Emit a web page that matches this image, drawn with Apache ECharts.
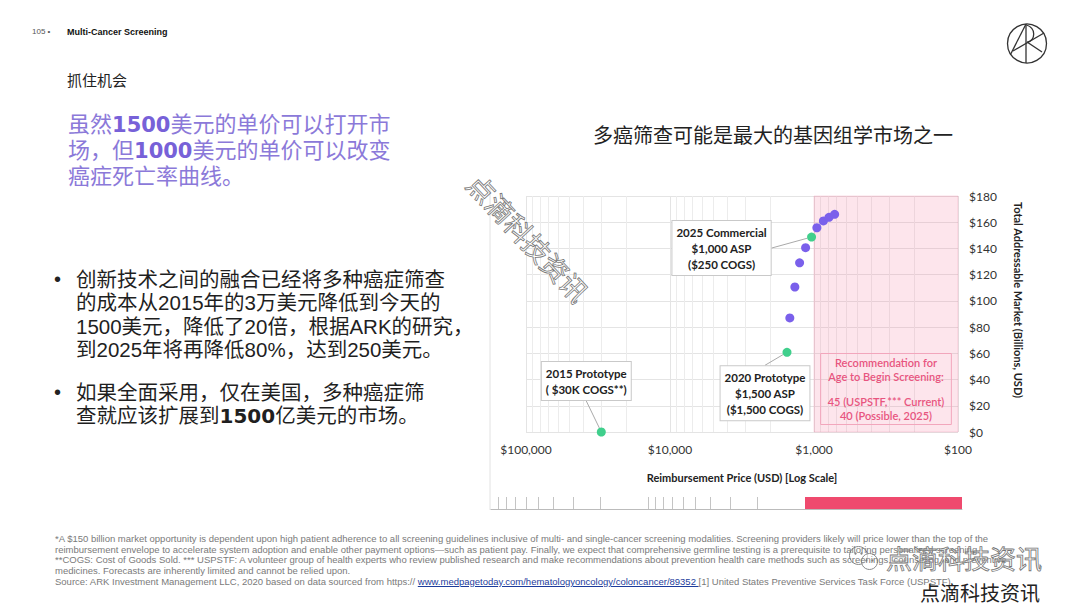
<!DOCTYPE html>
<html><head><meta charset="utf-8">
<script src="https://cdn.jsdelivr.net/npm/echarts@6/dist/echarts.min.js"></script>
<style>
body{margin:0;width:1080px;height:608px;overflow:hidden;background:#fff;}
#chart{position:absolute;left:0;top:0;width:1080px;height:608px;}
.t{position:absolute;white-space:nowrap;z-index:5;}
.cjk{font-family:'Liberation Sans','Noto Sans CJK SC',sans-serif;}
.num{font-family:'DejaVu Sans',sans-serif;font-weight:bold;}
.wm{color:rgba(255,255,255,0.4);-webkit-text-stroke:0.8px #777;font-family:'Noto Sans CJK SC';}
</style></head><body>
<div id="chart"></div>

<div class="t" style="left:32px;top:27px;font:8px/10px 'Liberation Sans';color:#555">105 •</div>
<div class="t" style="left:67px;top:27px;font:bold 9px/10px 'Liberation Sans';color:#111">Multi-Cancer Screening</div>
<div class="t cjk" style="left:67px;top:71px;font-size:15px;line-height:20px;color:#222">抓住机会</div>

<div class="t cjk" style="left:68px;top:112px;font-size:22px;line-height:26px;color:#8b79d9">
虽然<span class="num" style="font-size:21px;color:#7761d8">1500</span>美元的单价可以打开市<br>
场，但<span class="num" style="font-size:21px;color:#7761d8">1000</span>美元的单价可以改变<br>
癌症死亡率曲线。</div>

<div class="t" style="left:54px;top:268px;font:20px/23.4px 'Liberation Sans';color:#222">•</div>
<div class="t cjk" style="left:76px;top:268px;font-size:20.5px;line-height:23.4px;color:#1f1f1f">
创新技术之间的融合已经将多种癌症筛查<br>
的成本从2015年的3万美元降低到今天的<br>
1500美元，降低了20倍，根据ARK的研究，<br>
到2025年将再降低80%，达到250美元。</div>
<div class="t" style="left:54px;top:380.5px;font:20px/23.4px 'Liberation Sans';color:#222">•</div>
<div class="t cjk" style="left:76px;top:380.5px;font-size:20.5px;line-height:23.4px;color:#1f1f1f">
如果全面采用，仅在美国，多种癌症筛<br>
查就应该扩展到<span class="num" style="font-size:20px">1500</span>亿美元的市场。</div>

<div class="t cjk" style="left:593px;top:123px;font-size:20px;line-height:26px;color:#222">多癌筛查可能是最大的基因组学市场之一</div>

<div class="t" style="left:55px;top:534px;font:9.5px/10.7px 'Liberation Sans';color:#7a7a7a">
*A $150 billion market opportunity is dependent upon high patient adherence to all screening guidelines inclusive of multi- and single-cancer screening modalities. Screening providers likely will price lower than the top of the<br>
reimbursement envelope to accelerate system adoption and enable other payment options—such as patient pay. Finally, we expect that comprehensive germline testing is a prerequisite to tailoring personalized screening.<br>
**COGS: Cost of Goods Sold. *** USPSTF: A volunteer group of health experts who review published research and make recommendations about prevention health care methods such as screenings, counseling, and preventive<br>
medicines. Forecasts are inherently limited and cannot be relied upon.<br>
Source: ARK Investment Management LLC, 2020 based on data sourced from https:// <span style="color:#1d3c9c;text-decoration:underline">www.medpagetoday.com/hematologyoncology/coloncancer/89352 </span>[1] United States Preventive Services Task Force (USPSTF)</div>

<div class="t wm" style="left:447px;top:222px;font-size:27px;line-height:32px;transform:rotate(47deg);transform-origin:center">点滴科技资讯</div>
<div class="t wm" style="left:886px;top:541px;font-size:26px;line-height:34px;">点滴科技资讯</div>
<div class="t" style="left:920px;top:580px;font-size:20px;line-height:26px;color:#222;font-family:'Noto Sans CJK SC'">点滴科技资讯</div>

<script>
// ---- data ----
const purplePrices = [1472, 1358, 1259, 1144, 955, 861, 787, 719];
const purpleMarkets = [87, 110.6, 129, 140.6, 155.8, 161, 163.7, 166];
const milestoneNames = ['2015 Prototype', '2020 Prototype', '2025 Commercial'];
const milestoneDetails = [['( $30K COGS**)'], ['$1,500 ASP', '($1,500 COGS)'], ['$1,000 ASP', '($250 COGS)']];
const milestonePrices = [30000, 1540, 1040];
const milestoneMarkets = [0, 60.8, 148.7];
const xTickValues = [100000, 10000, 1000, 100];
const minorGridPrices = [90000, 80000, 70000, 60000, 50000, 40000, 30000, 20000,
  9000, 8000, 7000, 6000, 5000, 4000, 3000, 2000, 900, 800, 700, 600, 500, 400, 300, 200];
const rulerTickPrices = [90000, 80000, 70000, 60000, 50000, 40000, 30000, 20000, 10000,
  9000, 8000, 7000, 6000, 5000, 4000, 3000, 2000];
const screeningZone = [1000, 100];
const recommendationLines = ['Recommendation for', 'Age to Begin Screening:', '45 (USPSTF,*** Current)', '40 (Possible, 2025)'];
const yMin = 0, yMax = 180, yStep = 20;

const chart = echarts.init(document.getElementById('chart'), null, {renderer: 'svg'});
const font = 'Lato';
const labelOffsets = [[-15, -51], [-22, 41], [-90, 11]];

chart.setOption({
  animation: false,
  grid: [
    {left: 526, right: 122, top: 196, bottom: 176},
    {left: 491, right: 118, top: 497, height: 12}
  ],
  xAxis: [{
    type: 'log', logBase: 10, min: 100, max: 100000, inverse: true,
    axisLine: {show: false}, axisTick: {show: false},
    axisLabel: {formatter: v => '$' + Math.round(v).toLocaleString('en-US'), color: '#333', fontFamily: font, fontSize: 12, margin: 11},
    splitLine: {show: true, lineStyle: {color: '#e4e4e4'}},
    name: 'Reimbursement Price (USD) [Log Scale]', nameLocation: 'middle', nameGap: 40,
    nameTextStyle: {fontFamily: font, fontWeight: 'bold', fontSize: 11, color: '#222'}
  }, {
    gridIndex: 1, type: 'log', logBase: 10, min: 100, max: 100000, inverse: true,
    axisLine: {show: true, lineStyle: {color: '#bbb'}}, axisTick: {show: false},
    axisLabel: {show: false}, splitLine: {show: false}
  }],
  yAxis: [{
    type: 'value', min: yMin, max: yMax, interval: yStep, position: 'right',
    axisLine: {show: false}, axisTick: {show: false},
    axisLabel: {formatter: v => '$' + v, color: '#333', fontFamily: font, fontSize: 12, margin: 11},
    splitLine: {show: true, lineStyle: {color: '#e4e4e4'}},
    name: 'Total Addressable Market (Billions, USD)', nameLocation: 'middle', nameRotate: -90, nameGap: 55,
    nameTextStyle: {fontFamily: font, fontWeight: 'bold', fontSize: 11, color: '#222', padding: [0, 28, 0, 0]}
  }, {
    gridIndex: 1, type: 'value', min: 0, max: 1, show: false
  }],
  series: [{
    type: 'scatter', z: 3,
    data: purplePrices.map((p, i) => [p, purpleMarkets[i]]),
    symbolSize: 9, itemStyle: {color: '#7a60eb', opacity: 1},
    markArea: {
      silent: true, z: 1,
      itemStyle: {color: 'rgba(243,110,150,0.18)', borderColor: 'rgba(240,110,150,0.22)', borderWidth: 1},
      label: {
        show: true, position: 'insideBottom', distance: 8,
        formatter: '{a|' + recommendationLines[0] + '}\n{a|' + recommendationLines[1] + '}\n{g| }\n{a|' + recommendationLines[2] + '}\n{a|' + recommendationLines[3] + '}',
        borderColor: '#f2a6bc', borderWidth: 1, padding: [2, 7],
        rich: {a: {color: '#e8557f', fontFamily: font, fontWeight: 600, fontSize: 11, lineHeight: 14, align: 'center'},
               g: {fontSize: 6, lineHeight: 11}}
      },
      data: [[{xAxis: screeningZone[0]}, {xAxis: screeningZone[1]}]]
    },
    markLine: {
      silent: true, z: 0.5, symbol: 'none', animation: false,
      label: {show: false}, lineStyle: {color: '#ececec', type: 'solid', width: 1},
      data: minorGridPrices.map(v => ({xAxis: v}))
    }
  }, {
    type: 'scatter', z: 4,
    data: milestonePrices.map((p, i) => ({name: milestoneNames[i], value: [p, milestoneMarkets[i]]})),
    symbolSize: 9, itemStyle: {color: '#40cf8c', opacity: 1},
    label: {
      show: true, position: 'inside',
      formatter: p => [p.name].concat(milestoneDetails[p.dataIndex]).join('\n'),
      backgroundColor: '#fff', borderColor: '#c9c9c9', borderWidth: 1, padding: [3, 4],
      color: '#222', fontFamily: font, fontWeight: 'bold', fontSize: 11.5, lineHeight: 16, align: 'center'
    },
    labelLayout: p => ({dx: labelOffsets[p.dataIndex][0], dy: labelOffsets[p.dataIndex][1]}),
    labelLine: {show: true, lineStyle: {color: '#aaa', width: 1}}
  }, {
    type: 'scatter', xAxisIndex: 1, yAxisIndex: 1, data: [], silent: true,
    markArea: {silent: true, itemStyle: {color: '#ef4a6e'}, data: [[{xAxis: screeningZone[0]}, {xAxis: screeningZone[1]}]]},
    markLine: {silent: true, symbol: 'none', label: {show: false}, lineStyle: {color: '#c4c4c4', type: 'solid', width: 1},
      data: rulerTickPrices.map(v => ({xAxis: v}))}
  }],
  graphic: [
    {type: 'line', shape: {x1: 490, y1: 188, x2: 490, y2: 510}, style: {stroke: '#e2e2e2', lineWidth: 1}, silent: true},
    {type: 'group', silent: true, children: [
      {type: 'circle', shape: {cx: 1027, cy: 43.5, r: 19.5}, style: {fill: 'none', stroke: '#333', lineWidth: 1.3}},
      {type: 'line', shape: {x1: 1026, y1: 24, x2: 1026, y2: 63}, style: {stroke: '#333', lineWidth: 1.3}},
      {type: 'line', shape: {x1: 1026, y1: 24, x2: 1010.5, y2: 54.5}, style: {stroke: '#333', lineWidth: 1.3}},
      {type: 'bezierCurve', shape: {x1: 1026.5, y1: 25, x2: 1027, y2: 42.5, cpx1: 1036, cpy1: 28, cpx2: 1036, cpy2: 40}, style: {fill: 'none', stroke: '#333', lineWidth: 1.3}},
      {type: 'line', shape: {x1: 1013, y1: 51, x2: 1044, y2: 33}, style: {stroke: '#333', lineWidth: 1.3}},
      {type: 'line', shape: {x1: 1027, y1: 42, x2: 1042, y2: 52}, style: {stroke: '#333', lineWidth: 1.3}}
    ]},
    {type: 'group', left: 849, top: 546, silent: true, children: [
      {type: 'circle', shape: {cx: 11, cy: 9, r: 9}, style: {fill: 'rgba(255,255,255,0.5)', stroke: '#888', lineWidth: 1}},
      {type: 'circle', shape: {cx: 22, cy: 15, r: 8}, style: {fill: 'rgba(255,255,255,0.6)', stroke: '#888', lineWidth: 1}},
      {type: 'circle', shape: {cx: 8, cy: 7, r: 1.2}, style: {fill: '#888'}},
      {type: 'circle', shape: {cx: 14, cy: 7, r: 1.2}, style: {fill: '#888'}},
      {type: 'circle', shape: {cx: 19, cy: 14, r: 1}, style: {fill: '#888'}},
      {type: 'circle', shape: {cx: 25, cy: 14, r: 1}, style: {fill: '#888'}}
    ]}
  ]
});
</script>
</body></html>
